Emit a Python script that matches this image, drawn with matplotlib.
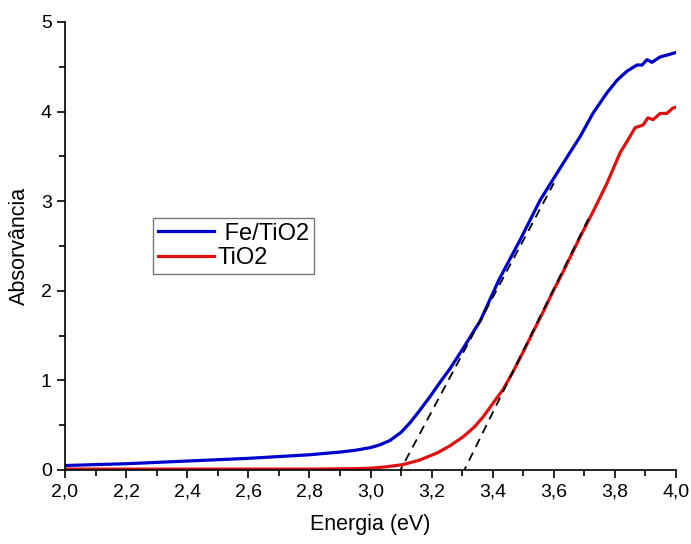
import matplotlib
matplotlib.use("Agg")
import matplotlib.pyplot as plt
from matplotlib.ticker import MultipleLocator, FuncFormatter

plt.rcParams["font.family"] = ["Liberation Sans", "DejaVu Sans"]

# Fe/TiO2
fe_x = [2.00, 2.20, 2.40, 2.60, 2.80, 2.90, 2.95, 3.00, 3.03, 3.064, 3.10, 3.13, 3.16,
        3.195, 3.23, 3.26, 3.30, 3.36, 3.42, 3.49, 3.555, 3.597, 3.643, 3.686,
        3.728, 3.774, 3.807, 3.839, 3.872, 3.889, 3.905, 3.921, 3.948, 3.97, 3.99, 4.00]
fe_y = [0.05, 0.07, 0.10, 0.13, 0.17, 0.20, 0.22, 0.25, 0.28, 0.33, 0.42, 0.53, 0.66,
        0.82, 0.99, 1.13, 1.34, 1.67, 2.12, 2.57, 3.01, 3.24, 3.49, 3.72,
        3.98, 4.21, 4.35, 4.45, 4.52, 4.52, 4.58, 4.55, 4.61, 4.63, 4.65, 4.66]

# TiO2
ti_x = [2.00, 2.40, 2.80, 2.95, 3.00, 3.05, 3.106, 3.16, 3.218, 3.26, 3.303, 3.34,
        3.368, 3.40, 3.434, 3.467, 3.50, 3.532, 3.566, 3.597, 3.63, 3.663, 3.686,
        3.728, 3.774, 3.817, 3.849, 3.866, 3.892, 3.908, 3.925, 3.948, 3.97, 3.99, 4.00]
ti_y = [0.01, 0.01, 0.01, 0.015, 0.02, 0.035, 0.06, 0.11, 0.19, 0.27, 0.37, 0.48,
        0.59, 0.74, 0.90, 1.10, 1.32, 1.54, 1.77, 1.99, 2.21, 2.44, 2.60,
        2.88, 3.20, 3.54, 3.72, 3.82, 3.85, 3.93, 3.91, 3.98, 3.98, 4.04, 4.05]

# Tangent (band gap) lines
fe_tan_x = [3.09, 3.60]
fe_tan_y = [-0.05, 3.20]
ti_tan_x = [3.30, 3.72]
ti_tan_y = [-0.05, 2.85]

fig = plt.figure(figsize=(6.91, 5.44), dpi=100)
ax = fig.add_axes([65 / 691, 74 / 544, 611 / 691, 448 / 544])

ax.plot(fe_x, fe_y, color="#0000cc", linewidth=2.3, label=" Fe/TiO2")
ax.plot(ti_x, ti_y, color="#e01010", linewidth=2.3, label="TiO2")
ax.plot(fe_tan_x, fe_tan_y, color="black", linestyle=(0, (5, 3.5)), linewidth=1.3)
ax.plot(ti_tan_x, ti_tan_y, color="black", linestyle=(0, (5, 3.5)), linewidth=1.3)

ax.set_xlim(2.0, 4.0)
ax.set_ylim(0, 5)
ax.xaxis.set_major_locator(MultipleLocator(0.2))
ax.xaxis.set_minor_locator(MultipleLocator(0.1))
ax.yaxis.set_major_locator(MultipleLocator(1))
ax.yaxis.set_minor_locator(MultipleLocator(0.5))
ax.xaxis.set_major_formatter(FuncFormatter(lambda v, p: f"{v:.1f}".replace(".", ",")))
ax.tick_params(which="major", direction="out", length=6, width=1.2, labelsize=14)
ax.tick_params(which="minor", direction="out", length=4, width=1.2)
ax.spines["top"].set_visible(False)
ax.spines["right"].set_visible(False)
ax.spines["left"].set_linewidth(1.2)
ax.spines["bottom"].set_linewidth(1.2)

ax.set_xlabel("Energia (eV)", fontsize=15.5, labelpad=10)
ax.set_ylabel("Absorvância", fontsize=15.5, labelpad=8)

leg = ax.legend(loc="upper left", bbox_to_anchor=(0.144, 0.5625), fontsize=17,
                frameon=True, fancybox=False, edgecolor="#555555",
                handlelength=2.4, borderpad=0.2, labelspacing=0.1,
                handletextpad=0.15, borderaxespad=0)
leg.get_frame().set_linewidth(1.0)

fig.savefig("out.png", dpi=100)
